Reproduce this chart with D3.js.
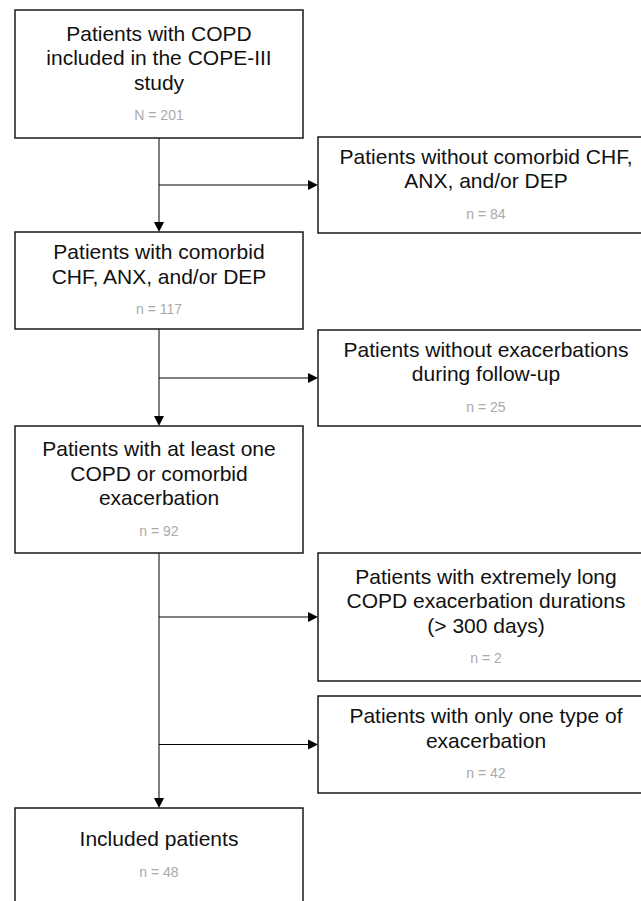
<!DOCTYPE html>
<html>
<head>
<meta charset="utf-8">
<script src="https://cdn.jsdelivr.net/npm/d3@7/dist/d3.min.js"></script>
<style>
  html, body { margin: 0; padding: 0; background: #fff; }
  svg { display: block; font-family: "Liberation Sans", Arial, Helvetica, sans-serif; }
</style>
</head>
<body>
<svg id="flow" width="641" height="901"></svg>
<script>
// boxes on the main (left) column
const mainLabels = [
  ["Patients with COPD", "included in the COPE-III", "study"],
  ["Patients with comorbid", "CHF, ANX, and/or DEP"],
  ["Patients with at least one", "COPD or comorbid", "exacerbation"],
  ["Included patients"]
];
const mainCounts = ["N = 201", "n = 117", "n = 92", "n = 48"];

// exclusion boxes on the right
const exclLabels = [
  ["Patients without comorbid CHF,", "ANX, and/or DEP"],
  ["Patients without exacerbations", "during follow-up"],
  ["Patients with extremely long", "COPD exacerbation durations", "(> 300 days)"],
  ["Patients with only one type of", "exacerbation"]
];
const exclCounts = ["n = 84", "n = 25", "n = 2", "n = 42"];

// layout (top / bottom of every box, in px)
const mainRows = [[10, 138], [232, 329], [426, 553], [808, 902]];
const exclRows = [[137, 233], [330, 426], [553, 681], [696, 793]];

const lineGap = 24.5, countGap = 33;

const svg = d3.select("#flow");

// column centres
const x = d3.scalePoint()
  .domain(["main", "excluded"])
  .range([159, 486]);
const colWidth = { main: 288, excluded: 336 };

const y = d3.scaleLinear().domain([0, 901]).range([0, 901]);

function drawBox(col, rows, lines, count) {
  const cx = x(col), w = colWidth[col];
  const top = y(rows[0]), bot = y(rows[1]);
  const g = svg.append("g");
  g.append("rect")
    .attr("x", cx - w / 2)
    .attr("y", top)
    .attr("width", w)
    .attr("height", bot - top)
    .attr("fill", "#fff")
    .attr("stroke", "#1a1a1a")
    .attr("stroke-width", 1.5);

  const block = (lines.length - 1) * lineGap + countGap;
  const first = (top + bot) / 2 - block / 2;
  g.selectAll("text.lbl")
    .data(lines)
    .enter()
    .append("text")
    .attr("class", "lbl")
    .attr("x", cx)
    .attr("y", (d, i) => first + i * lineGap)
    .attr("dy", "0.36em")
    .attr("text-anchor", "middle")
    .attr("font-size", 21)
    .attr("fill", "#111")
    .text(d => d);
  g.append("text")
    .attr("x", cx)
    .attr("y", first + (lines.length - 1) * lineGap + countGap)
    .attr("dy", "0.36em")
    .attr("text-anchor", "middle")
    .attr("font-size", 14)
    .attr("fill", "#aaaaaa")
    .text(count);
}

// connectors first so boxes sit on top
const links = svg.append("g").attr("stroke", "#000").attr("stroke-width", 1);

// vertical trunk between main boxes, with arrow heads
for (let i = 0; i < mainRows.length - 1; i++) {
  const x0 = x("main");
  const yt = y(mainRows[i + 1][0]);
  links.append("line")
    .attr("x1", x0).attr("x2", x0)
    .attr("y1", y(mainRows[i][1])).attr("y2", yt - 9);
  svg.append("path")
    .attr("d", d3.line()([[x0 - 5, yt - 10], [x0 + 5, yt - 10], [x0, yt]]) + "Z")
    .attr("fill", "#000");
}

// horizontal branches to the exclusion boxes
exclRows.forEach(r => {
  const yy = (y(r[0]) + y(r[1])) / 2;
  const xe = x("excluded") - colWidth.excluded / 2;
  links.append("line")
    .attr("x1", x("main")).attr("x2", xe - 9)
    .attr("y1", yy).attr("y2", yy);
  svg.append("path")
    .attr("d", d3.line()([[xe - 10, yy - 5], [xe - 10, yy + 5], [xe, yy]]) + "Z")
    .attr("fill", "#000");
});

mainLabels.forEach((lines, i) => drawBox("main", mainRows[i], lines, mainCounts[i]));
exclLabels.forEach((lines, i) => drawBox("excluded", exclRows[i], lines, exclCounts[i]));
</script>
</body>
</html>
